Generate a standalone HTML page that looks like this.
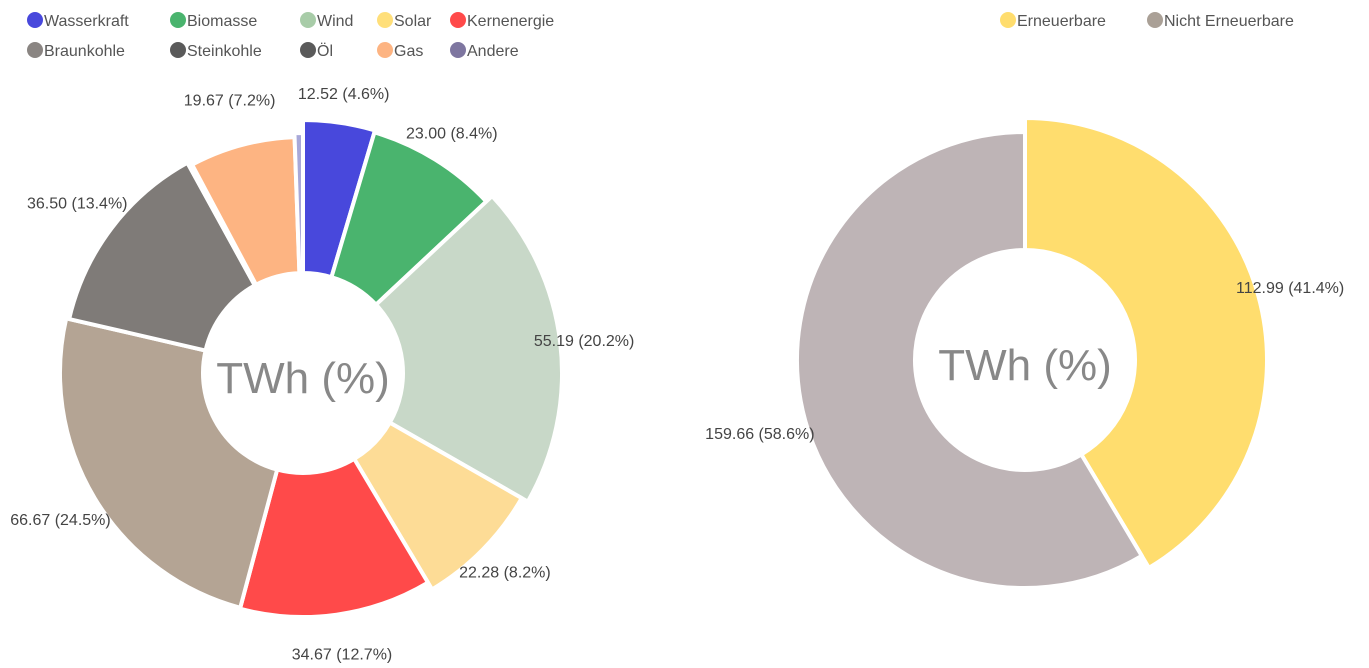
<!DOCTYPE html>
<html><head><meta charset="utf-8"><style>
body{margin:0;background:#fff;font-family:"Liberation Sans",sans-serif}
svg{display:block}
</style></head><body>
<svg width="1369" height="668" viewBox="0 0 1369 668">
<g id="leftLegend"></g>
<g id="rightLegend"></g>
<g id="left"></g>
<g id="right"></g>
<text x="303" y="393" text-anchor="middle" font-size="44" fill="#888">TWh (%)</text>
<text x="1025" y="380" text-anchor="middle" font-size="44" fill="#888">TWh (%)</text>
</svg>
<script>
const leftCategories = ["Wasserkraft","Biomasse","Wind","Solar","Kernenergie","Braunkohle","Steinkohle","Öl","Gas","Andere"];
const leftValues = [12.52,23.00,55.19,22.28,34.67,66.67,36.50,0.6,19.67,1.55];
const leftColors = ["#4848dc","#4ab46e","#c8d8c8","#fddc96","#ff4a4a","#b4a494","#7f7b78","#a8a4a0","#fdb482","#a8a8d8"];
const leftLegendColors = ["#4848dc","#4ab46e","#a8cca8","#ffdf7a","#ff4a4a","#8a8582","#5a5a5a","#5a5a5a","#fdb482","#7e76a0"];
const leftRadii = [253,251,259,252,244,243,240,240,236,240];
const rightCategories = ["Erneuerbare","Nicht Erneuerbare"];
const rightValues = [112.99,159.66];
const rightColors = ["#ffdd6e","#beb4b6"];
const rightLegendColors = ["#ffdd6e","#aaa096"];
const rightRadii = [242,228];
const NS="http://www.w3.org/2000/svg";
function mk(tag,attrs,parent){const e=document.createElementNS(NS,tag);for(const k in attrs)e.setAttribute(k,attrs[k]);parent.appendChild(e);return e;}
function pt(cx,cy,r,a){return [cx+r*Math.sin(a),cy-r*Math.cos(a)];}
function donut(g,cats,vals,cols,radii,cx,cy,ri,labelR){
  const tot=vals.reduce((a,b)=>a+b,0);let a0=0;
  vals.forEach((v,i)=>{
    const a1=a0+v/tot*2*Math.PI,ro=radii[i];
    const p1=pt(cx,cy,ro,a0),p2=pt(cx,cy,ro,a1),p3=pt(cx,cy,ri,a1),p4=pt(cx,cy,ri,a0);
    const lg=(a1-a0)>Math.PI?1:0;
    const path=mk("path",{d:`M${p1}A${ro},${ro} 0 ${lg} 1 ${p2}L${p3}A${ri},${ri} 0 ${lg} 0 ${p4}Z`,fill:cols[i],stroke:"#fff","stroke-width":4,"stroke-linejoin":"round"},g);
    
    
    const share=v/tot*100;
    if(share>=2){
      const m=(a0+a1)/2,lp=pt(cx,cy,labelR,m);
      const t=mk("text",{x:lp[0],y:lp[1]+6,"text-anchor":"middle","font-size":16,fill:"#444"},g);
      t.textContent=v.toFixed(2)+" ("+share.toFixed(1)+"%)";
      
      
    }
    a0=a1;
  });
}
function legend(g,cats,cols,xs,ys){
  cats.forEach((c,i)=>{
    const it=mk("g",{},g);
    
    
    mk("circle",{cx:xs[i]-12,cy:ys[i],r:8,fill:cols[i]},it);
    const t=mk("text",{x:xs[i]-3,y:ys[i]+6,"font-size":16,fill:"#555"},it);t.textContent=c;
  });
}
donut(document.getElementById("left"),leftCategories,leftValues,leftColors,leftRadii,303,373,100,283);
donut(document.getElementById("right"),rightCategories,rightValues,rightColors,rightRadii,1025,360,110,275);
legend(document.getElementById("leftLegend"),leftCategories,leftLegendColors,[47,190,320,397,470,47,190,320,397,470],[20,20,20,20,20,50,50,50,50,50]);
legend(document.getElementById("rightLegend"),rightCategories,rightLegendColors,[1020,1167],[20,20]);
</script>
</body></html>
